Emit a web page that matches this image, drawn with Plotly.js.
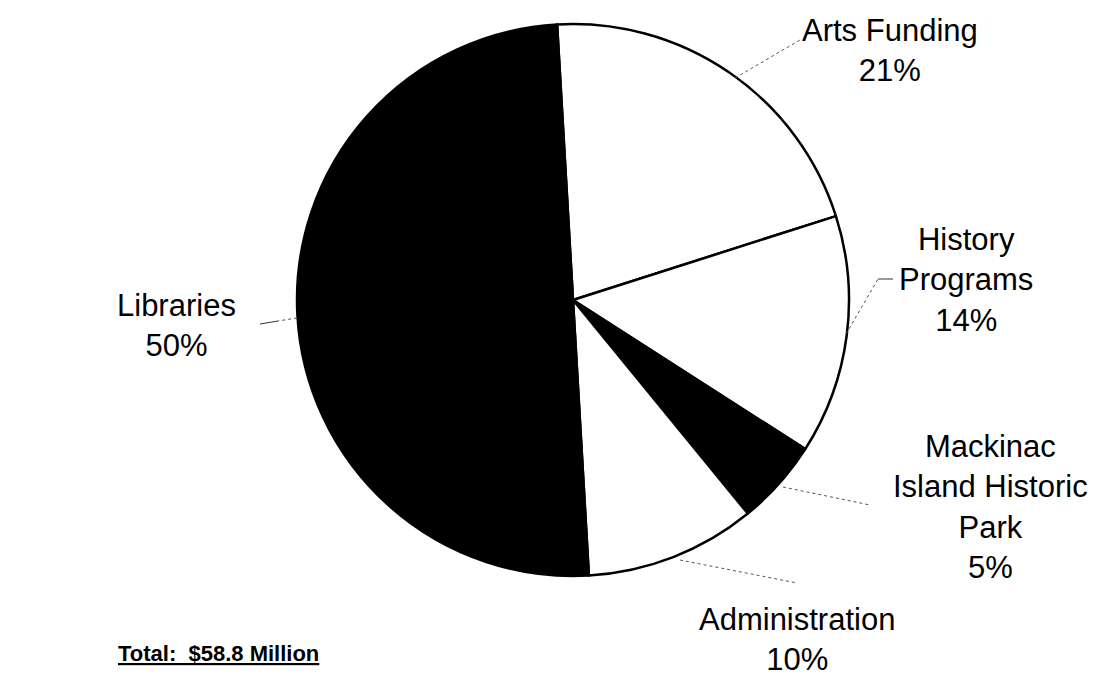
<!DOCTYPE html>
<html>
<head>
<meta charset="utf-8">
<script src="https://cdn.plot.ly/plotly-3.0.1.min.js"></script>
<style>html,body{margin:0;padding:0;background:#fff;}#chart{width:1096px;height:677px;}</style>
</head>
<body>
<div id="chart"></div>
<script>
// ---- data ----
const categories = ["Arts Funding", "History Programs", "Mackinac Island Historic Park", "Administration", "Libraries"];
const labelText  = ["Arts Funding", "History<br>Programs", "Mackinac<br>Island Historic<br>Park", "Administration", "Libraries"];
const shares     = [21, 14, 5, 10, 50];
const sliceFill  = ["#ffffff", "#ffffff", "#000000", "#ffffff", "#000000"];
const totalText  = "Total:  $58.8 Million";

// ---- layout helpers (pixel positions of the label blocks) ----
const W = 1096, H = 677;
const cx = 573, cy = 300, R = 276;
const labelPos = [[890, 51], [966, 280], [990, 507], [797, 639], [176, 326]];
const leaders = [
  [[735, 78], [800, 40]],
  [[846, 334], [878, 279], [893, 279]],
  [[783, 487], [870, 505]],
  [[680, 560], [797, 583]],
  [[297, 318], [278, 321], [260, 324]]
];
const px = x => x / W, py = y => 1 - y / H;

const trace = {
  type: "pie",
  labels: categories,
  values: shares,
  sort: false,
  direction: "clockwise",
  rotation: -3.3,
  textinfo: "none",
  hoverinfo: "none",
  marker: { colors: sliceFill, line: { color: "#000000", width: 2.5 } },
  domain: { x: [px(cx - R), px(cx + R)], y: [py(cy + R), py(cy - R)] },
  showlegend: false
};

const font = { family: "Liberation Sans, Arial, Helvetica, sans-serif", size: 31, color: "#000" };
const annotations = categories.map((c, i) => ({
  xref: "paper", yref: "paper",
  x: px(labelPos[i][0]), y: py(labelPos[i][1]),
  xanchor: "center", yanchor: "middle",
  text: labelText[i] + "<br>" + shares[i] + "%",
  showarrow: false, font: font, align: "center"
}));
annotations.push({
  xref: "paper", yref: "paper", x: px(116), y: py(653),
  xanchor: "left", yanchor: "middle",
  text: "<b><u>" + totalText.replace(/  /g, " &nbsp;") + "</u></b>",
  showarrow: false,
  font: { family: "Liberation Sans, Arial, Helvetica, sans-serif", size: 22, color: "#000" }
});

const shapes = [];
leaders.forEach(pts => {
  for (let k = 0; k < pts.length - 1; k++) {
    const solid = (pts.length === 3 && k === 1);
    shapes.push({
      type: "line", xref: "paper", yref: "paper",
      x0: px(pts[k][0]), y0: py(pts[k][1]), x1: px(pts[k + 1][0]), y1: py(pts[k + 1][1]),
      line: { color: solid ? "#333" : "#555", width: 1, dash: solid ? "solid" : "dot" }
    });
  }
});

Plotly.newPlot("chart", [trace], {
  width: W, height: H,
  margin: { l: 0, r: 0, t: 0, b: 0 },
  paper_bgcolor: "#fff", plot_bgcolor: "#fff",
  annotations: annotations, shapes: shapes
}, { staticPlot: true });
</script>
</body>
</html>
